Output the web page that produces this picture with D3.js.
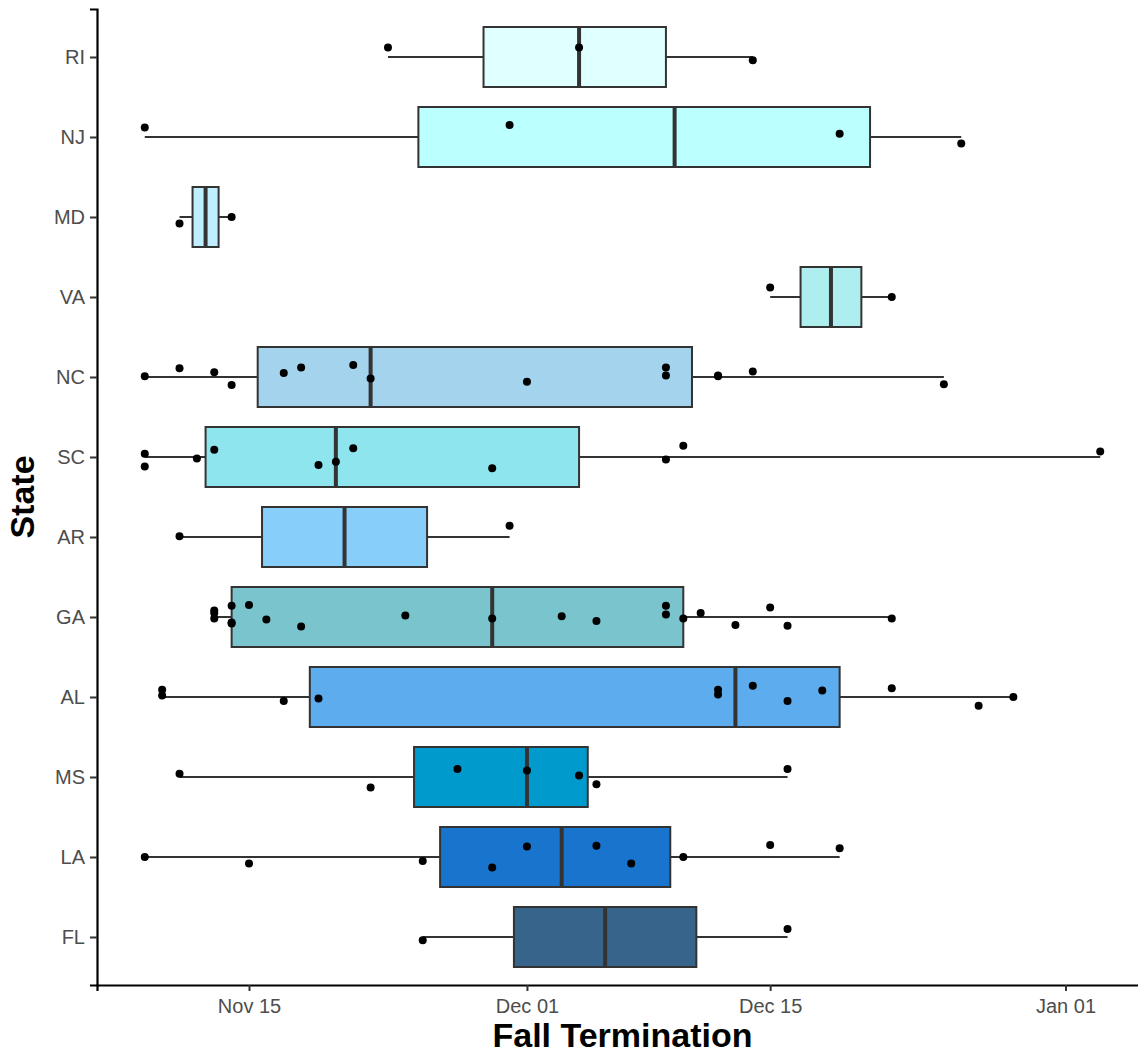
<!DOCTYPE html>
<html>
<head>
<meta charset="utf-8">
<script src="https://cdn.jsdelivr.net/npm/d3@7"></script>
<style>
html,body{margin:0;padding:0;background:#fff;}
svg{display:block;font-family:"Liberation Sans",Arial,sans-serif;}
</style>
</head>
<body>
<svg id="chart" width="1138" height="1053"></svg>
<script>
// ---------------- data ----------------
const states = ["RI","NJ","MD","VA","NC","SC","AR","GA","AL","MS","LA","FL"];
const fillColors = ["#E0FFFF","#BBFFFF","#BFEFFF","#AEEEEE","#A4D3EE","#8EE5EE",
                    "#87CEFA","#7AC5CD","#5CACEE","#009ACD","#1874CD","#36648B"];

// observed fall termination dates, one list per state (same order as states)
const terminationDates = [
  ["2019-11-23","2019-12-04","2019-12-14"],
  ["2019-11-09","2019-11-30","2019-12-19","2019-12-26"],
  ["2019-11-11","2019-11-14"],
  ["2019-12-15","2019-12-22"],
  ["2019-11-09","2019-11-11","2019-11-13","2019-11-14","2019-11-17","2019-11-18","2019-11-21",
   "2019-11-22","2019-12-01","2019-12-09","2019-12-09","2019-12-12","2019-12-12","2019-12-14","2019-12-25"],
  ["2019-11-09","2019-11-09","2019-11-12","2019-11-13","2019-11-19","2019-11-20","2019-11-21",
   "2019-11-29","2019-12-09","2019-12-10","2020-01-03"],
  ["2019-11-11","2019-11-30"],
  ["2019-11-13","2019-11-13","2019-11-13","2019-11-14","2019-11-14","2019-11-14","2019-11-15",
   "2019-11-16","2019-11-18","2019-11-24","2019-11-29","2019-12-03","2019-12-05","2019-12-09",
   "2019-12-09","2019-12-10","2019-12-11","2019-12-13","2019-12-15","2019-12-16","2019-12-22"],
  ["2019-11-10","2019-11-10","2019-11-17","2019-11-19","2019-12-12","2019-12-12","2019-12-14",
   "2019-12-16","2019-12-18","2019-12-22","2019-12-27","2019-12-29"],
  ["2019-11-11","2019-11-22","2019-11-27","2019-12-01","2019-12-04","2019-12-05","2019-12-16"],
  ["2019-11-09","2019-11-15","2019-11-25","2019-11-29","2019-12-01","2019-12-05","2019-12-07",
   "2019-12-10","2019-12-15","2019-12-19"],
  ["2019-11-25","2019-12-16"]
];

// vertical jitter of each point (fraction of one category step, + = downward)
const verticalJitter = [
  [-0.12,-0.12,0.04],
  [-0.12,-0.15,-0.04,0.08],
  [0.08,0.0],
  [-0.12,0.0],
  [-0.01,-0.11,-0.06,0.10,-0.05,-0.12,-0.15,0.02,0.06,-0.12,-0.02,-0.02,-0.01,-0.07,0.09],
  [-0.04,0.12,0.02,-0.09,0.10,0.06,-0.11,0.14,0.03,-0.14,-0.07],
  [-0.01,-0.14],
  [-0.08,0.02,-0.05,-0.14,0.08,0.07,-0.15,0.03,0.12,-0.02,0.02,-0.01,0.05,-0.14,-0.03,0.02,-0.05,0.10,-0.12,0.11,0.02],
  [-0.09,-0.02,0.05,0.02,-0.09,-0.03,-0.14,0.05,-0.08,-0.11,0.11,0.0],
  [-0.04,0.13,-0.10,-0.08,-0.02,0.09,-0.10],
  [0.0,0.08,0.05,0.13,-0.13,-0.14,0.08,0.0,-0.15,-0.11],
  [0.04,-0.10]
];

const xTickDates  = ["2019-11-15","2019-12-01","2019-12-15","2020-01-01"];
const xTickLabels = ["Nov 15","Dec 01","Dec 15","Jan 01"];
const xTitle = "Fall Termination";
const yTitle = "State";

// ---------------- chart ----------------
(function () {
const mLeft = 97, mTop = 9, mBottom = 985, mRight = 1148;
const parse = d3.utcParse("%Y-%m-%d");

const allDates = terminationDates.flat().map(parse);
const ext = d3.extent(allDates);
const pad = (ext[1] - ext[0]) * 0.05;
const x = d3.scaleUtc().domain([new Date(+ext[0] - pad), new Date(+ext[1] + pad)]).range([mLeft, mRight]);
const y = d3.scalePoint().domain(states).range([mTop, mBottom]).padding(0.6);
const boxH = y.step() * 0.75;

const svg = d3.select("#chart");
const lineCol = "#333333";

// box statistics (R type 7 quantiles, Tukey whiskers)
const stats = states.map((s, i) => {
  const v = terminationDates[i].map(d => +parse(d)).sort(d3.ascending);
  const q1 = d3.quantile(v, 0.25), med = d3.quantile(v, 0.5), q3 = d3.quantile(v, 0.75);
  const iqr = q3 - q1;
  const lo = d3.min(v.filter(t => t >= q1 - 1.5 * iqr));
  const hi = d3.max(v.filter(t => t <= q3 + 1.5 * iqr));
  return {state: s, fill: fillColors[i], q1, med, q3, lo, hi};
});

const gBox = svg.append("g");
const groups = gBox.selectAll("g.box").data(stats).join("g").attr("class", "box");

groups.append("line")
  .attr("x1", d => x(d.lo)).attr("x2", d => x(d.q1))
  .attr("y1", d => y(d.state)).attr("y2", d => y(d.state))
  .attr("stroke", lineCol).attr("stroke-width", 2);
groups.append("line")
  .attr("x1", d => x(d.q3)).attr("x2", d => x(d.hi))
  .attr("y1", d => y(d.state)).attr("y2", d => y(d.state))
  .attr("stroke", lineCol).attr("stroke-width", 2);
groups.append("rect")
  .attr("x", d => x(d.q1)).attr("width", d => x(d.q3) - x(d.q1))
  .attr("y", d => y(d.state) - boxH / 2).attr("height", boxH)
  .attr("fill", d => d.fill).attr("stroke", lineCol).attr("stroke-width", 2);
groups.append("line")
  .attr("x1", d => x(d.med)).attr("x2", d => x(d.med))
  .attr("y1", d => y(d.state) - boxH / 2 + 1).attr("y2", d => y(d.state) + boxH / 2 - 1)
  .attr("stroke", lineCol).attr("stroke-width", 4);

// jittered points
const pts = [];
states.forEach((s, i) => terminationDates[i].forEach((d, j) =>
  pts.push({state: s, date: parse(d), jit: verticalJitter[i][j]})));
svg.append("g").selectAll("circle").data(pts).join("circle")
  .attr("cx", d => x(d.date))
  .attr("cy", d => y(d.state) + d.jit * y.step())
  .attr("r", 4).attr("fill", "#000");

// axes
const xAxis = svg.append("g").attr("transform", `translate(0,${mBottom})`)
  .call(d3.axisBottom(x).tickValues(xTickDates.map(parse))
        .tickFormat((d, i) => xTickLabels[i]).tickSizeOuter(0).tickSize(6).tickPadding(8));
const yAxis = svg.append("g").attr("transform", `translate(${mLeft},0)`)
  .call(d3.axisLeft(y).tickSizeOuter(0).tickSize(7).tickPadding(5));

[xAxis, yAxis].forEach(g => {
  g.select(".domain").attr("stroke", "#000").attr("stroke-width", 2.2);
  g.selectAll(".tick line").attr("stroke", lineCol).attr("stroke-width", 2);
  g.selectAll(".tick text").attr("fill", "#4D4D4D").style("font-size", "20px")
   .style("font-family", '"Liberation Sans",Arial,sans-serif');
});

svg.append("text")
  .attr("x", (mLeft + mRight) / 2).attr("y", 1047)
  .attr("text-anchor", "middle").attr("font-weight", "bold").attr("font-size", 34)
  .attr("fill", "#000").text(xTitle);

svg.append("text")
  .attr("transform", `translate(34,${(mTop + mBottom) / 2}) rotate(-90)`)
  .attr("text-anchor", "middle").attr("font-weight", "bold").attr("font-size", 34)
  .attr("fill", "#000").text(yTitle);
})();
</script>
</body>
</html>
